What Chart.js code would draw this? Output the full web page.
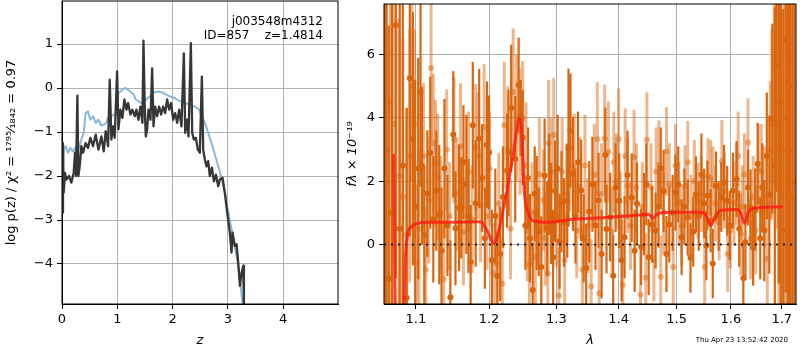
<!DOCTYPE html>
<html>
<head>
<meta charset="utf-8">
<script src="https://cdn.jsdelivr.net/npm/chart.js@4.4.1/dist/chart.umd.min.js"></script>
<style>
html, body { margin:0; padding:0; background:#fff; }
#wrap { position:relative; width:800px; height:350px; overflow:hidden; }
#left { position:absolute; left:0; top:0; }
#right { position:absolute; left:345px; top:0; }
</style>
</head>
<body>
<div id="wrap">
<canvas id="left" width="345" height="350"></canvas>
<canvas id="right" width="455" height="350"></canvas>
</div>
<script>
// left panel: log p(z)
const zDark = [0.006,0.018,0.03,0.054,0.078,0.127,0.169,0.211,0.235,0.253,
  0.278,0.296,0.32,0.35,0.38,0.428,0.47,0.513,0.561,0.61,
  0.658,0.712,0.754,0.79,0.833,0.863,0.893,0.923,0.953,0.996,
  1.02,1.056,1.092,1.128,1.165,1.195,1.237,1.273,1.316,1.346,
  1.382,1.418,1.454,1.473,1.497,1.515,1.539,1.563,1.6,1.63,
  1.654,1.684,1.72,1.756,1.792,1.829,1.865,1.901,1.937,1.973,
  2.01,2.046,2.082,2.118,2.16,2.203,2.227,2.263,2.287,2.33,
  2.354,2.384,2.42,2.456,2.492,2.529,2.553,2.583,2.613,2.643,
  2.673,2.71,2.746,2.782,2.824,2.854,2.902,2.944,2.987,3.035,
  3.065,3.083,3.126,3.156,3.186,3.217,3.247,3.277,3.289,3.30];
const lnpDark = [-2.83,-1.25,-2.38,-1.93,-2.08,-2.0,-2.15,-1.93,-1.47,-2.0,
  -0.17,-2.0,-1.78,-1.32,-1.47,-1.25,-1.36,-1.13,-1.32,-1.06,
  -1.4,-1.1,-1.44,-0.98,-1.32,0.19,-1.17,-0.87,-1.13,0.38,
  -0.94,-0.49,-0.68,-0.26,-0.49,-0.34,-0.6,-0.49,-0.64,-0.49,
  -0.72,-0.42,-0.79,1.08,-0.49,-1.1,-0.94,-0.49,-0.72,0.45,
  -0.87,-0.42,-0.64,-0.42,-0.6,-0.42,-0.57,-0.26,-0.49,-0.34,
  -0.72,-0.57,-0.79,-0.49,-0.87,0.79,-1.02,-0.72,-1.1,1.02,
  -1.02,-1.17,-1.13,-1.4,-1.47,0.26,-1.4,-1.63,-1.78,-1.66,
  -2.0,-1.81,-2.12,-1.97,-2.23,-2.08,-2.04,-2.38,-2.83,-3.29,
  -3.74,-3.29,-3.59,-3.55,-3.97,-4.5,-4.2,-4.04,-4.91,-6];
const zBlue = [0.006,0.03,0.066,0.109,0.151,0.199,0.247,0.296,0.35,0.392,
  0.428,0.47,0.513,0.561,0.61,0.658,0.706,0.754,0.803,0.833,
  0.893,0.953,0.996,1.02,1.056,1.104,1.153,1.201,1.255,1.298,
  1.334,1.382,1.436,1.527,1.618,1.678,1.768,1.859,1.949,2.04,
  2.13,2.221,2.311,2.402,2.48,2.523,2.583,2.643,2.704,2.764,
  2.824,2.885,2.945,3.005,3.066,3.126,3.186,3.229,3.265,3.29];
const lnpBlue = [-2.0,-1.4,-1.32,-1.47,-1.36,-1.44,-1.34,-1.4,-1.17,-1.02,
  -0.57,-0.53,-0.72,-0.64,-0.79,-0.72,-0.85,-0.83,-0.79,-0.66,
  -0.64,-0.6,-0.53,-0.11,-0.08,-0.02,0.0,-0.05,-0.1,-0.15,
  -0.26,-0.3,-0.34,-0.26,-0.15,-0.09,-0.08,-0.13,-0.19,-0.23,
  -0.3,-0.34,-0.38,-0.42,-0.49,-0.64,-0.79,-1.02,-1.25,-1.51,
  -1.78,-2.04,-2.38,-2.8,-3.21,-3.63,-4.04,-4.5,-4.91,-5.3];
const zTicks = [0, 1, 2, 3, 4];
const lnpTicks = [-4, -3, -2, -1, 0, 1];
const zRange = [0, 4.99];
const lnpRange = [-4.91, 1.98];

// right panel: spectrum, dark set (A) and faint set (B), plus model
const specLamA = [1.060,1.065,1.074,1.079,1.088,1.092,1.096,1.106,1.108,1.115,1.131,1.134,
  1.146,1.150,1.153,1.158,1.161,1.168,1.174,1.177,1.186,1.197,1.200,1.204,1.216,1.226,1.228,
  1.232,1.238,1.243,1.249,1.264,1.270,1.277,1.282,1.292,1.298,1.308,1.317,1.319,1.326,1.339,
  1.347,1.352,1.378,1.380,1.386,1.391,1.401,1.410,1.422,1.431,1.438,1.443,1.457,1.463,1.477,
  1.487,1.498,1.509,1.520,1.525,1.535,1.545,1.554,1.556,1.562,1.572,1.587,1.593,1.611,1.624,
  1.628,1.638,1.643,1.652,1.665,1.675,1.681,1.689,1.694,1.703,1.708,1.715,1.722,
  // more bars in between
  1.062,1.069,1.083,1.099,1.103,1.111,1.119,1.123,1.127,1.138,1.142,1.164,1.171,1.181,
  1.190,1.194,1.209,1.212,1.220,1.246,1.253,1.257,1.260,1.267,1.273,1.286,1.289,1.295,
  1.302,1.305,1.312,1.322,1.330,1.334,1.343,1.357,1.362,1.367,1.372,1.395,1.405,1.415,
  1.427,1.447,1.451,1.468,1.472,1.482,1.493,1.503,1.514,1.530,1.540,1.550,1.566,1.577,
  1.582,1.598,1.604,1.616,1.633,1.647,1.657,1.661,1.670,1.686,1.698,1.712,1.718,1.726];
const specFluxA = [2.0,-1.09,6.93,0.5,-1.68,5.25,3.34,4.83,2.49,1.61,0.94,-0.2,
  -1.67,3.48,0.51,1.16,1.16,1.9,-0.55,3.77,3.35,3.15,2.91,-0.5,-0.29,2.33,2.89,
  4.31,2.7,5.04,3.38,-1.44,1.0,-0.71,2.18,0.98,1.69,1.35,1.38,3.06,2.23,1.71,
  -0.74,1.04,2.83,0.49,0.87,-0.99,1.38,0.23,1.48,1.29,-0.08,0.96,0.63,0.44,1.69,
  0.63,1.64,0.23,0.85,-0.42,1.58,2.21,-0.03,1.55,0.75,1.84,1.95,1.38,2.07,-1.07,
  0.07,1.17,-0.1,2.55,0.44,1.58,3.98,5.67,3.77,0.44,6.48,3.0,1.5,
  3.0,1.0,2.5,1.2,2.4,0.3,2.9,0.8,1.7,2.4,0.6,2.6,0.9,1.3,
  2.1,0.2,0.9,-1.0,1.5,4.0,0.6,2.1,0.2,1.6,0.4,0.5,1.9,-0.4,
  2.4,0.1,0.7,3.6,0.9,2.6,0.2,1.9,0.6,1.4,-0.3,1.8,-0.5,2.2,
  -0.2,1.9,-0.4,1.2,2.4,-0.3,1.0,1.9,1.2,0.4,0.9,1.3,-0.6,0.9,
  1.5,0.6,1.7,0.5,1.8,1.1,0.2,1.8,2.8,2.5,4.5,2.0,5.0,2.0];
const specErrA = [9,8,8,9,6,5,4,3,2.5,2,2.2,2,
  1.8,2,1.8,2,1.6,2.2,1.8,2,2.2,2,1.8,1.6,1.5,1.8,2,
  2,2,1.5,1.5,1.5,1.8,1.6,1.8,1.6,1.6,1.6,1.8,2.5,1.8,1.6,
  1.4,1.6,1.5,1.4,1.4,1.3,1.5,1.3,1.4,1.3,1.2,1.3,1.2,1.2,1.3,
  1.2,1.2,1.2,1.2,1.1,1.2,1.3,1.1,1.1,1.0,1.1,1.2,1.1,1.2,1.1,
  1.2,1.2,1.2,1.3,1.6,2.5,3,4,5,7,8,9,9,
  9,9,7,4,3.5,2.2,2.4,2.0,1.9,2.2,1.6,1.8,1.8,2.0,
  1.7,1.6,1.5,1.4,1.6,1.2,1.4,1.6,1.4,1.5,1.4,1.5,1.6,1.5,
  1.7,1.5,1.4,1.8,1.5,1.6,1.4,1.5,1.4,1.5,1.4,1.4,1.3,1.4,
  1.3,1.3,1.2,1.3,1.3,1.2,1.2,1.2,1.2,1.1,1.1,1.1,1.1,1.1,
  1.1,1.1,1.2,1.2,1.2,1.3,1.3,1.4,2.0,5,8,9,9,9];
const specLamB = [1.072,1.078,1.088,1.095,1.101,1.120,1.126,1.129,1.151,1.181,
  1.188,1.193,1.206,1.219,1.222,1.235,1.245,1.254,1.256,1.259,
  1.274,1.287,1.288,1.296,1.304,1.321,1.328,1.332,1.355,1.365,
  1.368,1.377,1.383,1.396,1.400,1.407,1.415,1.426,1.437,1.446,
  1.448,1.469,1.472,1.482,1.494,1.504,1.515,1.532,1.539,1.551,
  1.557,1.566,1.578,1.583,1.599,1.606,1.619,1.626,1.633,1.648,
  1.659,1.671,1.677,1.685,1.697,1.704,
  1.062,1.067,1.083,1.092,1.098,1.104,1.110,1.113,1.117,1.123,
  1.133,1.137,1.141,1.145,1.155,1.160,1.164,1.171,1.176,1.184,
  1.197,1.201,1.210,1.214,1.227,1.231,1.240,1.249,1.263,1.268,
  1.280,1.283,1.292,1.300,1.309,1.313,1.316,1.337,1.341,1.345,
  1.350,1.360,1.372,1.389,1.392,1.403,1.411,1.420,1.430,1.440,
  1.455,1.460,1.464,1.477,1.487,1.498,1.509,1.520,1.526,1.545,
  1.562,1.571,1.588,1.594,1.611,1.614,1.622,1.638,1.643,1.653,
  1.665,1.680,1.690,1.694,1.709,1.715];
const specFluxB = [3.81,2.16,0.3,5.0,-0.6,5.58,2.57,2.13,3.30,3.07,
  1.24,3.71,-0.92,-1.23,3.77,4.83,3.56,2.49,0.44,-0.63,
  2.21,-0.92,3.2,3.46,-1.61,3.04,2.44,0.44,-1.33,3.33,
  -1.54,3.35,2.92,2.0,3.33,-1.28,1.86,2.76,-1.59,-1.05,
  3.31,2.52,-1.02,2.94,-0.71,1.32,1.84,2.0,1.38,-0.71,
  2.16,1.9,0.7,2.63,0.44,1.32,0.33,2.21,3.22,0.46,
  2.31,-0.45,2.96,4.86,3.46,2.99,
  2.0,4.5,1.5,2.8,3.8,0.5,2.8,-0.8,1.4,3.2,
  1.0,-1.1,3.0,0.9,1.6,3.1,0.4,2.3,0.8,2.8,
  0.9,2.4,-0.6,1.3,3.0,0.5,4.0,4.0,1.0,-0.4,
  1.4,0.2,2.3,0.8,2.3,-0.5,1.6,1.8,-0.8,2.5,
  0.6,2.2,1.6,0.4,2.6,0.9,2.8,0.6,1.8,1.2,
  1.8,-0.5,2.3,1.0,1.9,2.5,0.6,2.6,0.9,1.6,
  2.1,1.3,1.7,-0.3,1.9,2.8,1.2,0.2,1.5,2.4,
  1.5,3.8,4.5,3.0,4.0,5.9];
const specErrB = [6,5,4,3,2.5,2.3,2,2,2,2,
  1.8,2,1.6,1.5,2,2,2,2,1.6,1.5,
  1.8,1.6,2,1.8,1.5,2,1.7,1.5,1.5,1.8,
  1.5,1.7,1.6,1.5,1.6,1.5,1.5,1.5,1.4,1.4,
  1.5,1.4,1.3,1.4,1.3,1.3,1.3,1.3,1.2,1.2,
  1.2,1.2,1.2,1.3,1.2,1.3,1.3,1.3,1.4,1.4,
  1.5,1.8,2.2,3,4,5,
  8,7,5,4,3,2.5,2.3,2,2,2.2,
  1.8,1.8,1.9,1.7,1.8,2.0,1.7,1.9,1.7,2.0,
  1.7,1.8,1.5,1.6,2.0,1.6,2.0,1.8,1.6,1.5,
  1.6,1.5,1.7,1.5,1.7,1.5,1.6,1.6,1.4,1.6,
  1.5,1.6,1.6,1.4,1.6,1.4,1.5,1.4,1.4,1.4,
  1.4,1.3,1.4,1.3,1.3,1.3,1.3,1.3,1.3,1.2,
  1.2,1.2,1.2,1.2,1.3,1.4,1.3,1.3,1.3,1.4,
  1.6,3,4,5,6,6];
const modelLam = [1.071,1.0745,1.083,1.086,1.089,1.093,1.100,1.114,1.150,1.185,
  1.190,1.197,1.207,1.221,1.235,1.244,1.248,1.251,1.258,1.265,
  1.285,1.326,1.379,1.434,1.451,1.458,1.468,1.491,1.545,1.554,
  1.562,1.569,1.581,1.612,1.620,1.626,1.635,1.657,1.702];
const modelFlux = [2.85,-3,-3,-0.6,0.33,0.54,0.65,0.70,0.70,0.72,
  0.70,0.44,0.04,1.17,2.83,3.98,3.46,1.79,0.96,0.75,
  0.70,0.80,0.85,0.93,0.96,0.83,0.99,1.02,1.02,0.91,
  0.59,0.83,1.08,1.11,0.96,0.67,1.06,1.17,1.19];
const lamTicks = [1.1, 1.2, 1.3, 1.4, 1.5, 1.6, 1.7];
const fluxTicks = [0, 2, 4, 6];
const lamRange = [1.059, 1.729];
const fluxRange = [-1.88, 7.6];

Chart.defaults.font.family = "'DejaVu Sans', sans-serif";
Chart.defaults.font.size = 13;
Chart.defaults.color = '#000';

function pts(xs, ys) {
  return xs.map((x, i) => ({x: x, y: ys[i]}));
}
function minus(v) {
  return String(v).replace('-', '\u2212');
}

const orange = '#d9660f';
const orangeLight = 'rgba(217,102,15,0.48)';

// black box round the plot area
const frame = {
  id: 'frame',
  afterDraw(c) {
    const a = c.chartArea, ctx = c.ctx;
    ctx.save();
    ctx.strokeStyle = '#000';
    ctx.lineWidth = 1;
    ctx.strokeRect(a.left, a.top, a.right - a.left, a.bottom - a.top);
    ctx.restore();
  }
};

// vertical error bars, drawn under the points
const errBars = {
  id: 'errBars',
  beforeDatasetsDraw(c) {
    const ctx = c.ctx, xs = c.scales.x, ys = c.scales.y, a = c.chartArea;
    ctx.save();
    ctx.beginPath();
    ctx.rect(a.left, a.top, a.right - a.left, a.bottom - a.top);
    ctx.clip();
    c.data.datasets.slice().reverse().forEach(ds => {
      if (!ds.errs) return;
      ctx.strokeStyle = ds.barColor;
      ctx.lineWidth = ds.barWidth;
      ds.data.forEach((p, i) => {
        const px = xs.getPixelForValue(p.x);
        ctx.beginPath();
        ctx.moveTo(px, ys.getPixelForValue(p.y - ds.errs[i]));
        ctx.lineTo(px, ys.getPixelForValue(p.y + ds.errs[i]));
        ctx.stroke();
      });
    });
    ctx.restore();
  }
};

const labelText = {
  id: 'labelText',
  afterDraw(c) {
    const ctx = c.ctx, a = c.chartArea;
    ctx.save();
    ctx.fillStyle = '#000';
    ctx.font = "12px 'DejaVu Sans'";
    ctx.textAlign = 'right';
    ctx.fillText('j003548m4312', a.right - 15, 25);
    ctx.fillText('ID=857    z=1.4814', a.right - 15, 39);
    ctx.restore();
  }
};

const stamp = {
  id: 'stamp',
  afterDraw(c) {
    const ctx = c.ctx;
    ctx.save();
    ctx.fillStyle = '#000';
    ctx.font = "7px 'DejaVu Sans'";
    ctx.textAlign = 'right';
    ctx.fillText('Thu Apr 23 13:52:42 2020', c.width - 12, 342);
    ctx.restore();
  }
};

const gridOpts = { color: '#b0b0b0', lineWidth: 1, tickColor: '#000', tickLength: 5 };

new Chart(document.getElementById('left'), {
  type: 'scatter',
  data: {
    datasets: [{
      data: pts(zDark, lnpDark),
      showLine: true,
      borderColor: '#363636',
      borderWidth: 2.3,
      borderJoinStyle: 'round',
      pointRadius: 0
    }, {
      data: pts(zBlue, lnpBlue),
      showLine: true,
      borderColor: '#8ab8da',
      borderWidth: 2,
      borderJoinStyle: 'round',
      pointRadius: 0
    }]
  },
  options: {
    responsive: false,
    animation: false,
    layout: { padding: { left: 0, right: 7, top: 1, bottom: 0 } },
    plugins: { legend: { display: false }, tooltip: { enabled: false } },
    scales: {
      x: {
        type: 'linear', min: zRange[0], max: zRange[1],
        afterBuildTicks: s => { s.ticks = zTicks.map(v => ({value: v})); },
        afterFit: s => { s.height = 46; s.paddingLeft = 0; s.paddingRight = 0; },
        ticks: { padding: 3, maxRotation: 0, autoSkip: false },
        grid: gridOpts,
        border: { color: '#000' },
        title: { display: true, text: 'z', font: { size: 13, style: 'italic' }, padding: { top: 0, bottom: 2 } }
      },
      y: {
        type: 'linear', min: lnpRange[0], max: lnpRange[1],
        afterBuildTicks: s => { s.ticks = lnpTicks.map(v => ({value: v})); },
        afterFit: s => { s.width = 62; s.paddingTop = 0; s.paddingBottom = 0; },
        ticks: { padding: 4, callback: v => minus(v) },
        grid: gridOpts,
        border: { color: '#000' },
        title: { display: true, text: 'log p(z) / \u03c7\u00b2 = \u00b9\u2077\u2079\u2075\u2044\u2081\u2088\u2084\u2082 = 0.97', font: { size: 13 }, padding: { top: 4, bottom: 0 } }
      }
    }
  },
  plugins: [frame, labelText]
});

new Chart(document.getElementById('right'), {
  type: 'scatter',
  data: {
    datasets: [{
      data: pts(modelLam, modelFlux),
      showLine: true,
      cubicInterpolationMode: 'monotone',
      borderColor: 'rgba(255,25,15,0.8)',
      borderWidth: 3,
      pointRadius: 0
    }, {
      data: pts(lamRange, [0, 0]),
      showLine: true,
      borderColor: '#222',
      borderWidth: 2,
      borderDash: [2, 5],
      pointRadius: 0
    }, {
      data: pts(specLamA, specFluxA),
      errs: specErrA,
      barColor: orange,
      barWidth: 2.2,
      pointRadius: 3,
      borderWidth: 0,
      backgroundColor: orange
    }, {
      data: pts(specLamB, specFluxB),
      errs: specErrB,
      barColor: orangeLight,
      barWidth: 3,
      pointRadius: 3,
      borderWidth: 0,
      backgroundColor: orangeLight
    }]
  },
  options: {
    responsive: false,
    animation: false,
    layout: { padding: { left: 0, right: 1, top: 1, bottom: 0 } },
    plugins: { legend: { display: false }, tooltip: { enabled: false } },
    scales: {
      x: {
        type: 'logarithmic', min: lamRange[0], max: lamRange[1],
        afterBuildTicks: s => { s.ticks = lamTicks.map(v => ({value: v})); },
        afterFit: s => { s.height = 46; s.paddingLeft = 0; s.paddingRight = 0; },
        ticks: { padding: 3, maxRotation: 0, autoSkip: false, callback: v => Number(v).toFixed(1) },
        grid: gridOpts,
        border: { color: '#000' },
        title: { display: true, text: '\u03bb', font: { size: 13, style: 'italic' }, padding: { top: 0, bottom: 2 } }
      },
      y: {
        type: 'linear', min: fluxRange[0], max: fluxRange[1],
        afterBuildTicks: s => { s.ticks = fluxTicks.map(v => ({value: v})); },
        afterFit: s => { s.width = 39; s.paddingTop = 0; s.paddingBottom = 0; },
        ticks: { padding: 4, callback: v => minus(v) },
        grid: gridOpts,
        border: { color: '#000' },
        title: { display: true, text: 'f\u03bb \u00d7 10\u207b\u00b9\u2079', font: { size: 13, style: 'italic' }, padding: { top: 0, bottom: 0 } }
      }
    }
  },
  plugins: [frame, errBars, stamp]
});
</script>
</body>
</html>
